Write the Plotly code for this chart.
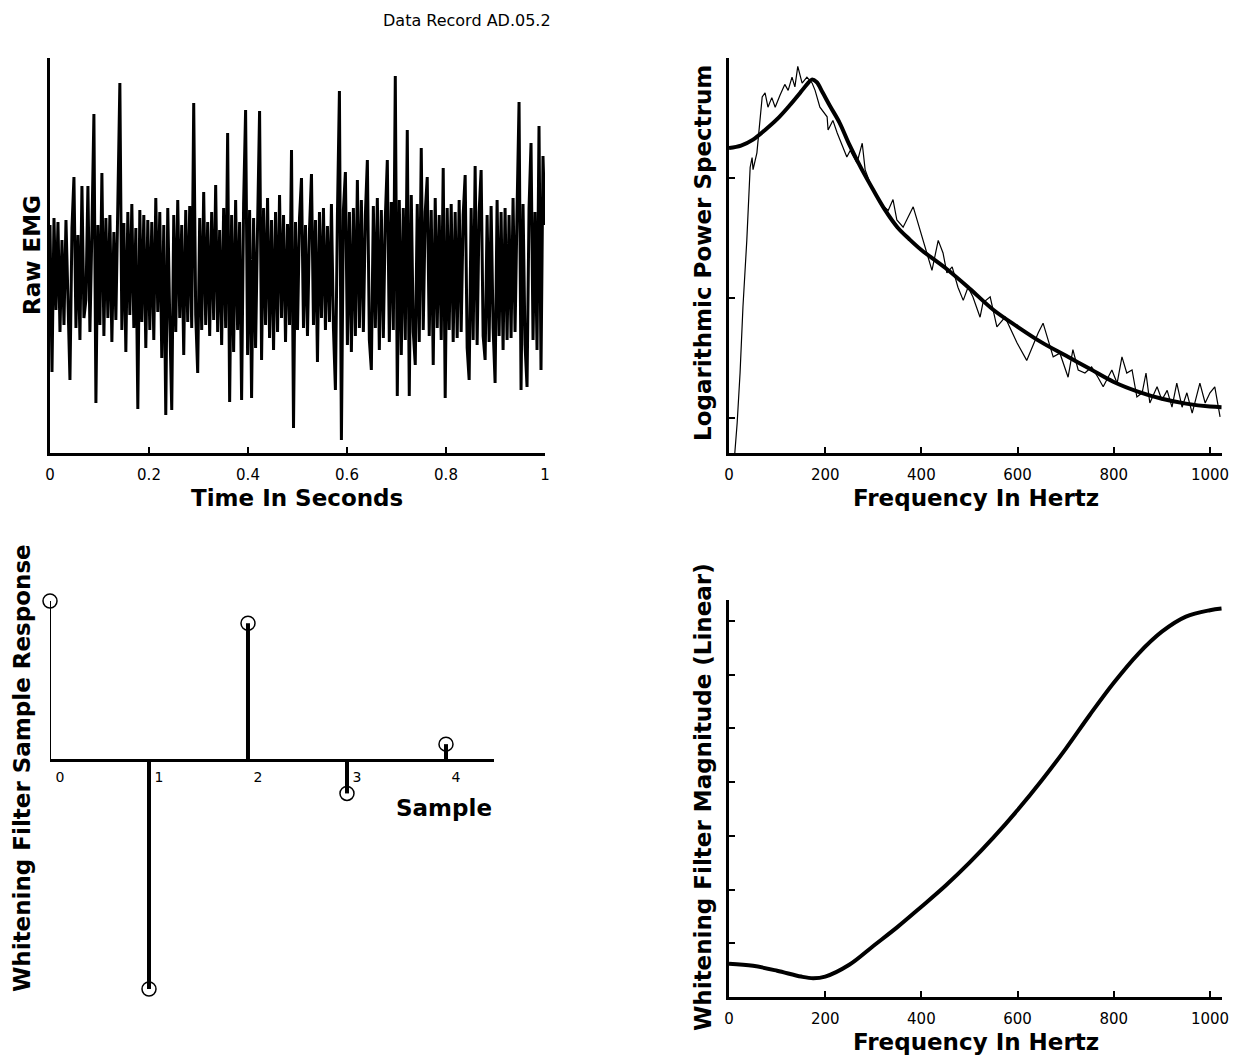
import plotly.graph_objects as go

# the page puts the figure 8px in from the top-left corner
OFF = 8
W, H = 1238 - OFF, 1061 - OFF

header = "Data Record AD.05.2"

# raw EMG, one value every ~4 ms (arbitrary units)
emg = [
    0.45, -1.02, 0.52, -0.40, 0.48, -0.62, 0.30, -0.55, 0.50, -0.45,
    -1.10, 0.42, 0.93, -0.58, 0.35, -0.70, 0.84, -0.48, -0.30, 0.84,
    -0.62, 0.40, 1.56, -1.33, 0.45, -0.55, 0.97, -0.66, 0.52, -0.48,
    0.55, -0.72, 0.38, -0.50, 0.62, 1.87, -0.60, 0.47, -0.82, 0.58,
    -0.45, 0.66, -0.58, 0.42, -1.39, 0.60, -0.52, 0.55, -0.78, 0.50,
    -0.60, 0.48, -0.70, 0.72, -0.42, 0.58, -0.88, 0.45, -1.45, 0.62,
    -0.50, -1.40, 0.55, -0.62, 0.70, -0.48, 0.45, -0.85, 0.60, -0.52,
    0.64, -0.58, 1.67, -0.45, -1.03, 0.52, -0.60, 0.78, -0.55, 0.48,
    -0.66, 0.58, -0.50, 0.85, -0.62, 0.40, -0.75, 0.62, -0.58, 1.37,
    -1.32, 0.55, -0.82, 0.70, -0.60, 0.48, -1.30, 0.66, 1.60, -0.85,
    0.60, -1.28, 0.52, -0.78, 0.45, 1.59, -0.90, 0.62, -0.55, 0.72,
    -0.68, 0.50, -0.80, 0.58, -0.62, 0.75, -0.48, 0.55, -0.72, 0.46,
    -0.55, 1.20, -1.58, 0.48, -0.60, 0.52, 0.92, -0.58, 0.45, -0.66,
    0.40, 0.96, -0.55, 0.50, -0.92, 0.58, -0.48, 0.62, -0.60, 0.44,
    -0.52, 0.66, -0.58, -1.20, 0.55, 1.79, -1.70, 0.60, 0.98, -0.75,
    0.58, -0.82, 0.62, -0.66, 0.90, -0.58, 0.70, -0.62, 0.55, 1.10,
    -0.70, -1.00, 0.64, -0.58, 0.72, -0.80, 0.60, -0.68, 0.52, 1.10,
    -0.72, 0.68, -0.60, 1.94, -1.26, 0.70, -0.85, 0.62, -0.70, 1.40,
    -1.26, 0.75, -0.62, -0.95, 0.66, -0.72, 1.22, -0.60, 0.58, 0.93,
    -0.66, 0.60, -0.95, 0.72, -0.58, 0.55, -0.70, 1.02, -1.28, 0.62,
    -0.60, 0.66, -0.72, 0.58, -0.68, 0.70, -0.62, 0.55, 0.95, -0.78,
    -1.10, 0.62, -0.70, 1.04, -0.75, 0.58, 1.00, -0.66, -0.90, 0.55,
    -0.72, 0.64, -0.58, -1.13, 0.70, -0.66, 0.58, -0.80, 0.62, -0.70,
    0.55, -0.68, 0.72, -0.62, 0.60, 1.68, -1.20, 0.66, -0.75, -1.17,
    0.62, 1.27, -0.70, 0.58, -0.80, 1.44, -1.00, 1.14, 0.45,
]

# estimated log power spectrum (thin, noisy)
spec_freq = [8, 17, 23, 29, 37, 44, 48, 50, 58, 62, 69, 75, 81, 89, 96, 106, 116, 123, 131, 137,
             143, 152, 162, 173, 179, 189, 204, 206, 216, 225, 245, 252, 266, 277, 283, 293, 304, 314, 331, 341,
             349, 362, 383, 397, 412, 422, 435, 445, 453, 464, 476, 487, 497, 507, 522, 528, 543, 557, 574, 590,
             599, 619, 630, 643, 653, 663, 674, 688, 705, 715, 726, 740, 754, 767, 778, 796, 807, 817, 827, 838,
             848, 859, 867, 875, 890, 900, 911, 921, 931, 942, 952, 963, 979, 990, 1000, 1010, 1021]
spec_power = [-0.5, -0.04, 0.375, 0.925, 1.48, 2.09, 2.17, 2.07, 2.21, 2.40, 2.675, 2.71, 2.59, 2.67, 2.59, 2.69, 2.78, 2.73, 2.84, 2.76,
              2.93, 2.79, 2.84, 2.79, 2.73, 2.59, 2.51, 2.40, 2.48, 2.375, 2.175, 2.23, 2.125, 2.29, 2.07, 1.96, 1.875, 1.79, 1.73, 1.82,
              1.65, 1.59, 1.76, 1.57, 1.375, 1.23, 1.48, 1.375, 1.21, 1.26, 1.09, 0.98, 1.09, 1.01, 0.84, 0.96, 1.01, 0.76, 0.84, 0.71,
              0.625, 0.48, 0.59, 0.71, 0.79, 0.65, 0.51, 0.54, 0.34, 0.57, 0.40, 0.375, 0.425, 0.34, 0.26, 0.40, 0.29, 0.51, 0.375, 0.40,
              0.175, 0.21, 0.375, 0.125, 0.26, 0.15, 0.23, 0.09, 0.29, 0.09, 0.21, 0.04, 0.29, 0.125, 0.21, 0.26, 0.01]

# fitted model spectrum (thick)
fit_freq = [0, 25, 50, 75, 100, 125, 150, 162, 172, 182, 195, 210, 230, 250, 275, 300, 325, 350, 375, 400,
            450, 500, 550, 600, 650, 700, 750, 800, 850, 900, 950, 1000, 1024]
fit_power = [2.25, 2.27, 2.32, 2.40, 2.49, 2.60, 2.72, 2.78, 2.82, 2.80, 2.71, 2.60, 2.46, 2.28, 2.08, 1.90, 1.73, 1.59, 1.49, 1.40,
             1.25, 1.08, 0.90, 0.76, 0.63, 0.52, 0.41, 0.30, 0.22, 0.16, 0.12, 0.095, 0.09]

# whitening filter impulse response
sample_idx = [0, 1, 2, 3, 4]
sample_resp = [1.0, -1.44, 0.86, -0.21, 0.10]

# whitening filter magnitude
filt_freq = [0, 50, 100, 150, 175, 200, 250, 300, 350, 400, 450, 500, 550, 600, 650, 700,
             750, 800, 850, 900, 950, 1000, 1024]
filt_mag = [0.62, 0.58, 0.49, 0.38, 0.35, 0.38, 0.60, 0.95, 1.30, 1.68, 2.07, 2.50, 2.97, 3.48, 4.03, 4.62,
            5.25, 5.85, 6.38, 6.80, 7.08, 7.20, 7.23]


# positions below are measured in screen pixels of the reference
def fx(px):
    return (px - OFF) / W


def fy(py):
    return 1 - (py - OFF) / H


tick_font = dict(family="DejaVu Sans", size=15, color="black")
title_font = dict(family="DejaVu Sans", size=23, color="black", weight="bold")

fig = go.Figure()

# top left: raw EMG
fig.add_trace(go.Scatter(y=emg, x0=0, dx=1 / (len(emg) - 1), mode="lines",
                         line=dict(color="black", width=3), xaxis="x", yaxis="y"))

# top right: spectra
fig.add_trace(go.Scatter(x=spec_freq, y=spec_power, mode="lines",
                         line=dict(color="black", width=1.2), xaxis="x2", yaxis="y2"))
fig.add_trace(go.Scatter(x=fit_freq, y=fit_power, mode="lines", line_shape="spline",
                         line=dict(color="black", width=4), xaxis="x2", yaxis="y2"))

# bottom left: stems
for i, v in zip(sample_idx, sample_resp):
    fig.add_trace(go.Scatter(x=[i, i], y=[0, v], mode="lines",
                             line=dict(color="black", width=2 if i == 0 else 4),
                             xaxis="x3", yaxis="y3"))
fig.add_trace(go.Scatter(x=sample_idx, y=sample_resp, mode="markers", cliponaxis=False,
                         marker=dict(symbol="circle-open", size=14, color="black", line=dict(width=1.5)),
                         xaxis="x3", yaxis="y3"))

# bottom right: filter magnitude
fig.add_trace(go.Scatter(x=filt_freq, y=filt_mag, mode="lines", line_shape="spline",
                         line=dict(color="black", width=4), xaxis="x4", yaxis="y4"))

axis_common = dict(showgrid=False, zeroline=False, showline=True, linecolor="black", linewidth=3,
                   tickfont=tick_font, ticks="inside", ticklen=6, tickwidth=2, tickcolor="black",
                   ticklabelstandoff=6, automargin=False)

freq_ticks = dict(range=[0, 1025], tickvals=[0, 200, 400, 600, 800, 1000])

fig.update_layout(
    width=W, height=H,
    margin=dict(l=0, r=0, t=0, b=0),
    paper_bgcolor="white", plot_bgcolor="white",
    showlegend=False,
    template="none",
    xaxis=dict(axis_common, domain=[fx(50), fx(545)], anchor="y", range=[0, 1],
               tickvals=[0, 0.2, 0.4, 0.6, 0.8, 1], ticktext=["0", "0.2", "0.4", "0.6", "0.8", "1"]),
    yaxis=dict(axis_common, domain=[fy(453), fy(58)], anchor="x", range=[-1.83, 2.12],
               ticks="", showticklabels=False),
    xaxis2=dict(axis_common, domain=[fx(729), fx(1222)], anchor="y2", **freq_ticks),
    yaxis2=dict(axis_common, domain=[fy(453), fy(58)], anchor="x2", range=[-0.2917, 3.0],
                tickvals=[0, 1, 2, 3], showticklabels=False),
    xaxis3=dict(axis_common, domain=[fx(50), fx(494)], anchor="free", position=fy(760),
                range=[0, 4.485], tickvals=sample_idx, ticks="", ticklabelshift=10, ticklabelstandoff=3,
                tickfont=dict(family="DejaVu Sans", size=14, color="black")),
    yaxis3=dict(domain=[fy(1000), fy(560)], anchor="x3", range=[-1.509, 1.258], visible=False),
    xaxis4=dict(axis_common, domain=[fx(729), fx(1222)], anchor="y4", **freq_ticks),
    yaxis4=dict(axis_common, domain=[fy(997), fy(600)], anchor="x4", range=[0, 7.39],
                tickvals=[1, 2, 3, 4, 5, 6, 7], showticklabels=False),
)

annotations = [
    dict(text=header, x=fx(467), y=fy(8.5), yanchor="top",
         font=dict(family="DejaVu Sans", size=16, color="black")),
    dict(text="Time In Seconds", x=fx(297), y=fy(498), font=title_font),
    dict(text="Raw EMG", x=fx(32), y=fy(255), textangle=-90, font=title_font),
    dict(text="Frequency In Hertz", x=fx(976), y=fy(498), font=title_font),
    dict(text="Logarithmic Power Spectrum", x=fx(703), y=fy(253), textangle=-90, font=title_font),
    dict(text="Sample", x=fx(494), y=fy(808), xanchor="right", font=title_font),
    dict(text="Whitening Filter Sample Response", x=fx(22), y=fy(768), textangle=-90, font=title_font),
    dict(text="Frequency In Hertz", x=fx(976), y=fy(1042), font=title_font),
    dict(text="Whitening Filter Magnitude (Linear)", x=fx(703), y=fy(797), textangle=-90, font=title_font),
]
for a in annotations:
    a.setdefault("xanchor", "center")
    a.setdefault("yanchor", "middle")
    fig.add_annotation(xref="paper", yref="paper", showarrow=False, **a)

fig.write_html("out.html")
